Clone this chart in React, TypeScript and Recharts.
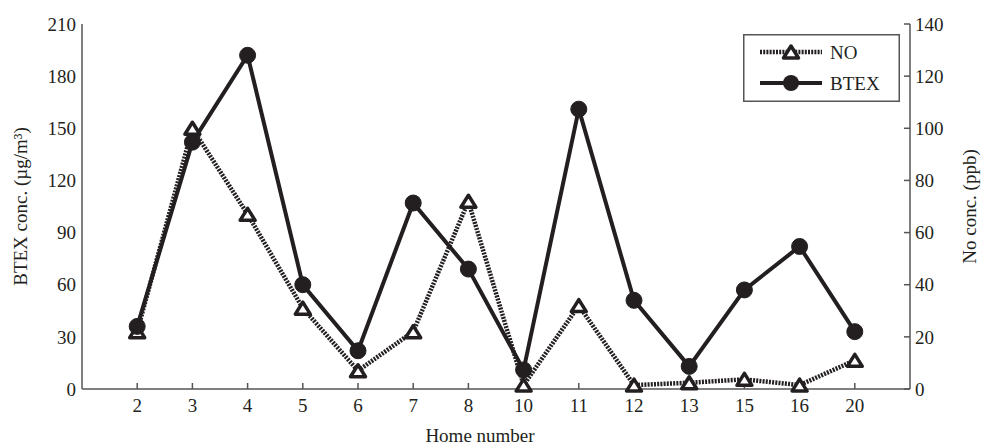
import React from 'react';
import {
  ComposedChart,
  Line,
  XAxis,
  YAxis,
  Legend,
} from 'recharts';

const homes = ['2', '3', '4', '5', '6', '7', '8', '10', '11', '12', '13', '15', '16', '20'];
const btexValues = [36, 142, 192, 60, 22, 107, 69, 11, 161, 51, 13, 57, 82, 33];
const noValues = [22, 100, 67, 31, 7, 22, 72, 1.5, 32, 1.5, 2.4, 3.7, 1.5, 11];
const leftTicks = [0, 30, 60, 90, 120, 150, 180, 210];
const rightTicks = [0, 20, 40, 60, 80, 100, 120, 140];
const xTicks = homes.map((_, i) => i + 1);

const data = homes.map((home, i) => ({
  pos: i + 1,
  home,
  btex: btexValues[i],
  no: noValues[i],
}));

const INK = '#231f20';
const FRAME = '#555555';
const FONT = '"Liberation Serif", "DejaVu Serif", serif';

// hollow triangle marker of the NO series
function Triangle({ cx, cy }: { cx: number; cy: number }) {
  return (
    <path
      d={`M${cx},${cy - 6} L${cx + 7.5},${cy + 6} L${cx - 7.5},${cy + 6} Z`}
      fill="#fff"
      stroke={INK}
      strokeWidth={3.5}
      strokeLinejoin="round"
    />
  );
}

const renderTriangle = (props: any) => {
  const { cx, cy, index } = props;
  return <Triangle key={`tri-${index}`} cx={cx} cy={cy} />;
};

const renderLegend = () => (
  <svg width={157} height={68} style={{ display: 'block' }}>
    <rect x={0.75} y={0.75} width={155.5} height={66.5} fill="#fff" stroke={FRAME} strokeWidth={1.5} />
    <line x1={17} x2={79} y1={18} y2={18} stroke={INK} strokeWidth={4.5} strokeDasharray="2 1.2" />
    <Triangle cx={48} cy={18} />
    <text x={87} y={18} dy="0.35em" fontSize={19} fontFamily={FONT} fill={INK}>NO</text>
    <line x1={17} x2={79} y1={49} y2={49} stroke={INK} strokeWidth={4} />
    <circle cx={48} cy={49} r={8} fill={INK} />
    <text x={87} y={49} dy="0.35em" fontSize={19} fontFamily={FONT} fill={INK}>BTEX</text>
  </svg>
);

const tickStyle = { fill: INK, fontSize: 19, fontFamily: FONT };

export default function App() {
  return (
    <div style={{ position: 'absolute', left: 0, top: 0, background: '#fff' }}>
      <ComposedChart
        width={981}
        height={446}
        data={data}
        margin={{ top: 24, right: 0, bottom: 0, left: 0 }}
      >
        <XAxis
          dataKey="pos"
          type="number"
          domain={[0, 15]}
          ticks={xTicks}
          tickFormatter={(v: number) => homes[v - 1]}
          height={57}
          tickSize={-6}
          tickMargin={16}
          axisLine={{ stroke: FRAME, strokeWidth: 1.5 }}
          tickLine={{ stroke: FRAME, strokeWidth: 1.5 }}
          tick={tickStyle}
          label={{
            value: 'Home number',
            position: 'insideBottom',
            offset: 4,
            dx: -16,
            style: { fill: INK, fontSize: 19, fontFamily: FONT },
          }}
        />
        <XAxis
          xAxisId="top"
          dataKey="pos"
          type="number"
          orientation="top"
          domain={[0, 15]}
          ticks={xTicks}
          tickFormatter={() => ''}
          height={0}
          tickSize={-6}
          axisLine={{ stroke: FRAME, strokeWidth: 1.5 }}
          tickLine={{ stroke: FRAME, strokeWidth: 1.5 }}
        />
        <YAxis
          yAxisId="left"
          domain={[0, 210]}
          ticks={leftTicks}
          width={82}
          tickSize={0}
          tickMargin={6}
          tickLine={false}
          axisLine={{ stroke: FRAME, strokeWidth: 1.5 }}
          tick={tickStyle}
          label={{
            value: 'BTEX conc. (µg/m³)',
            angle: -90,
            position: 'insideLeft',
            offset: 20,
            style: { fill: INK, fontSize: 19, fontFamily: FONT, textAnchor: 'middle' },
          }}
        />
        <YAxis
          yAxisId="right"
          orientation="right"
          domain={[0, 140]}
          ticks={rightTicks}
          width={71}
          tickSize={-6}
          tickMargin={11}
          axisLine={{ stroke: FRAME, strokeWidth: 1.5 }}
          tickLine={{ stroke: FRAME, strokeWidth: 1.5 }}
          tick={tickStyle}
          label={{
            value: 'No conc. (ppb)',
            angle: -90,
            position: 'insideRight',
            offset: 12,
            style: { fill: INK, fontSize: 19, fontFamily: FONT, textAnchor: 'middle' },
          }}
        />
        <Legend
          layout="vertical"
          align="center"
          verticalAlign="middle"
          content={renderLegend}
          wrapperStyle={{ position: 'absolute', left: 743, top: 34, width: 157, height: 68 }}
        />
        <Line
          yAxisId="right"
          dataKey="no"
          name="NO"
          stroke={INK}
          strokeWidth={4.5}
          strokeDasharray="2 1.2"
          dot={renderTriangle}
          activeDot={false}
          isAnimationActive={false}
        />
        <Line
          yAxisId="left"
          dataKey="btex"
          name="BTEX"
          stroke={INK}
          strokeWidth={4}
          dot={{ r: 8, fill: INK, stroke: INK, strokeWidth: 1 }}
          activeDot={false}
          isAnimationActive={false}
        />
      </ComposedChart>
    </div>
  );
}
